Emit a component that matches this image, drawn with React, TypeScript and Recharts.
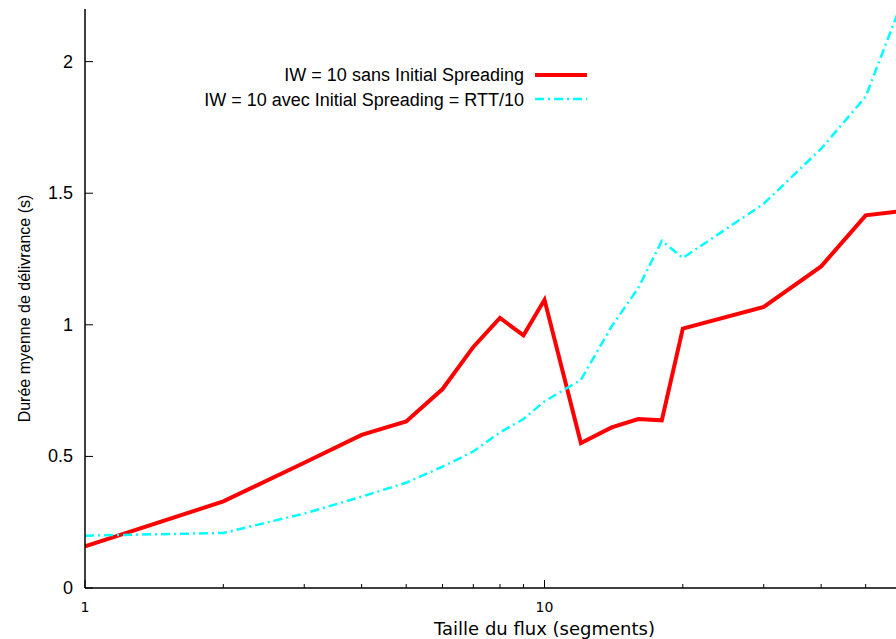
import React from "react";
import { LineChart, Line, XAxis, YAxis } from "recharts";

// flow sizes (segments) and mean delivery time (s)
const sizes = [1, 2, 3, 4, 5, 6, 7, 8, 9, 10, 12, 14, 16, 18, 20, 30, 40, 50, 60];
const sansSpreading = [
  0.158, 0.329, 0.476, 0.582, 0.633, 0.756, 0.916, 1.026, 0.96, 1.095, 0.551,
  0.61, 0.642, 0.637, 0.986, 1.068, 1.222, 1.416, 1.432,
];
const avecSpreading = [
  0.199, 0.209, 0.283, 0.347, 0.4, 0.461, 0.519, 0.591, 0.642, 0.709, 0.791,
  0.994, 1.14, 1.319, 1.254, 1.46, 1.669, 1.867, 2.227,
];

const xTicks = [1, 2, 3, 4, 5, 6, 7, 8, 9, 10, 20, 30, 40, 50, 60, 70, 80, 90, 100];
const majorX = [1, 10, 100];
const xLabels = [1, 10];
const yTicks = [0, 0.5, 1, 1.5, 2];

const seriesSans = "IW = 10 sans Initial Spreading";
const seriesAvec = "IW = 10 avec Initial Spreading = RTT/10";

const data = sizes.map((s, i) => ({
  size: s,
  sans: sansSpreading[i],
  avec: avecSpreading[i],
}));

const RED = "#ff0000";
const CYAN = "#00ffff";
const CYAN_DASH = "9 4 2 4";
const SANS = "Liberation Sans, Arial, sans-serif";

// gnuplot style: ticks pointing inside the plot
const BottomTick = (props: any) => {
  const { x, y, payload } = props;
  const major = majorX.includes(payload.value);
  return (
    <g>
      <line x1={x} y1={y} x2={x} y2={y - (major ? 8 : 4)} stroke="#000" strokeWidth={1} />
      {xLabels.includes(payload.value) && (
        <text
          x={x}
          y={y + 19}
          textAnchor="middle"
          dominantBaseline="central"
          fontFamily="DejaVu Sans"
          fontSize={14}
          fill="#000"
        >
          {payload.value}
        </text>
      )}
    </g>
  );
};

const TopTick = (props: any) => {
  const { x, y, payload } = props;
  const major = majorX.includes(payload.value);
  return <line x1={x} y1={y} x2={x} y2={y + (major ? 8 : 4)} stroke="#000" strokeWidth={1} />;
};

const LeftTick = (props: any) => {
  const { x, y, payload } = props;
  return (
    <g>
      <line x1={x} y1={y} x2={x + 8} y2={y} stroke="#000" strokeWidth={1} />
      <text
        x={x - 12}
        y={y}
        textAnchor="end"
        dominantBaseline="central"
        fontFamily={SANS}
        fontSize={18}
        fill="#000"
      >
        {payload.value}
      </text>
    </g>
  );
};

const KeyBox = () => (
  <svg
    width={600}
    height={120}
    style={{ position: "absolute", left: 0, top: 0, pointerEvents: "none" }}
  >
    <g fontFamily={SANS} fontSize={18} fill="#000">
      <text x={524} y={75} textAnchor="end" dominantBaseline="central">
        {seriesSans}
      </text>
      <text x={524} y={100} textAnchor="end" dominantBaseline="central">
        {seriesAvec}
      </text>
    </g>
    <line x1={535} y1={75} x2={587} y2={75} stroke={RED} strokeWidth={4} />
    <line x1={535} y1={99} x2={587} y2={99} stroke={CYAN} strokeWidth={2.5} strokeDasharray={CYAN_DASH} />
  </svg>
);

export default function App() {
  return (
    <div
      style={{
        position: "fixed",
        left: 0,
        top: 0,
        width: 896,
        height: 639,
        overflow: "hidden",
        background: "#fff",
      }}
    >
      <LineChart
        width={1024}
        height={639}
        data={data}
        margin={{ top: 9, right: 20, bottom: 0, left: 0 }}
      >
        <XAxis
          dataKey="size"
          type="number"
          scale="log"
          domain={[1, 100]}
          ticks={xTicks}
          interval={0}
          allowDataOverflow
          height={51}
          tickSize={0}
          tickMargin={0}
          tick={BottomTick}
          axisLine={{ stroke: "#000", strokeWidth: 1.5 }}
          tickLine={false}
          label={{
            value: "Taille du flux (segments)",
            position: "insideBottom",
            offset: 4,
            style: { fontFamily: "DejaVu Sans", fontSize: 18, fill: "#000" },
          }}
        />
        <XAxis
          xAxisId="top"
          dataKey="size"
          orientation="top"
          type="number"
          scale="log"
          domain={[1, 100]}
          ticks={xTicks}
          interval={0}
          allowDataOverflow
          height={0}
          tickSize={0}
          tickMargin={0}
          tick={TopTick}
          axisLine={{ stroke: "#000", strokeWidth: 1.5 }}
          tickLine={false}
        />
        <YAxis
          type="number"
          domain={[0, 2.2]}
          ticks={yTicks}
          interval={0}
          allowDataOverflow
          width={85}
          tickSize={0}
          tickMargin={0}
          tick={LeftTick}
          axisLine={{ stroke: "#000", strokeWidth: 1.5 }}
          tickLine={false}
          label={{
            content: (p: any) => {
              const vb = p.viewBox;
              const cy = vb.y + vb.height / 2 + 10;
              return (
                <text
                  x={24}
                  y={cy}
                  transform={`rotate(-90 24 ${cy})`}
                  textAnchor="middle"
                  dominantBaseline="central"
                  fontFamily={SANS}
                  fontSize={16}
                  fill="#000"
                >
                  Durée myenne de délivrance (s)
                </text>
              );
            },
          }}
        />
        <Line
          type="linear"
          dataKey="sans"
          name={seriesSans}
          stroke={RED}
          strokeWidth={4}
          dot={false}
          isAnimationActive={false}
        />
        <Line
          type="linear"
          dataKey="avec"
          name={seriesAvec}
          stroke={CYAN}
          strokeWidth={2.5}
          strokeDasharray={CYAN_DASH}
          dot={false}
          isAnimationActive={false}
        />
      </LineChart>
      <KeyBox />
    </div>
  );
}
